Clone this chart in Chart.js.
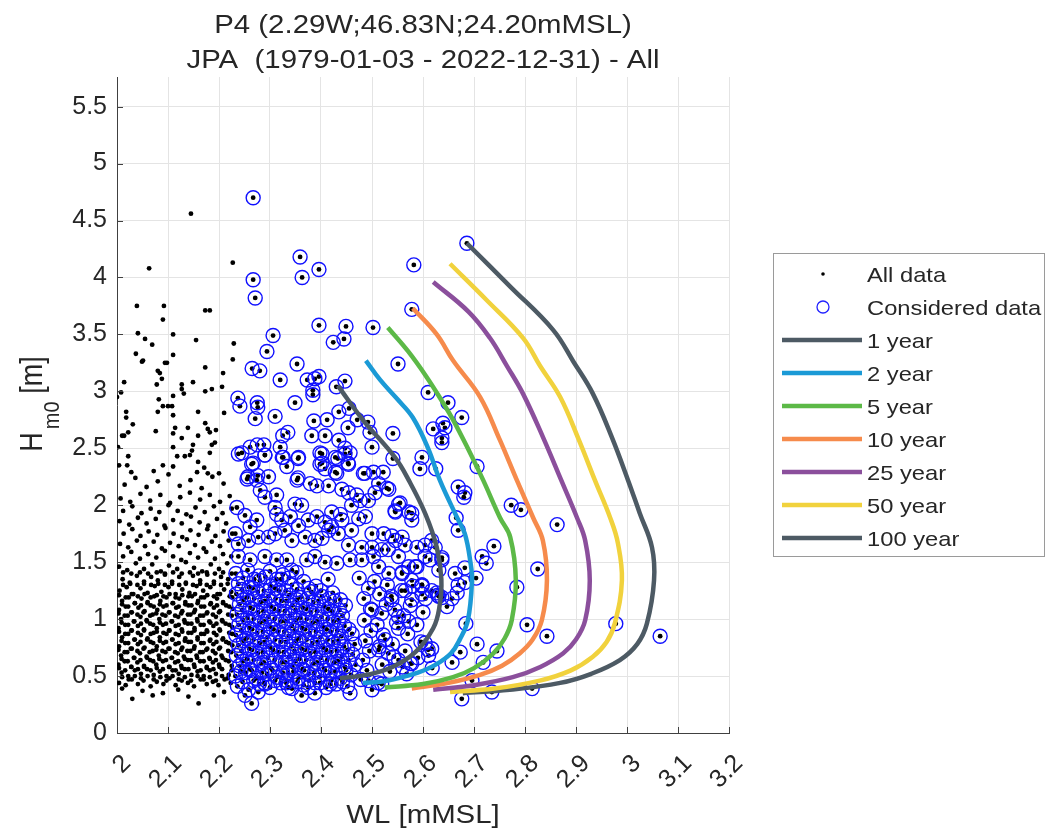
<!DOCTYPE html>
<html>
<head>
<meta charset="utf-8">
<script src="https://cdn.jsdelivr.net/npm/chart.js@4.4.1/dist/chart.umd.min.js"></script>
<style>
  html, body { margin: 0; padding: 0; background: #fff; }
  canvas { display: block; }
</style>
</head>
<body>
<canvas id="chart" width="1057" height="829"></canvas>
<script>
// WL [mMSL], Hm0 [m] pairs

// black dots that are not in the considered set
const otherData = [
  [2.03,0.30],[2.09,0.35],[2.16,0.26],[2.19,0.33],[2.05,0.37],[2.12,0.38],[2.21,0.36],[2.01,0.39],[2.14,0.32],[2.07,0.33],
  [2.004,0.44],[2.017,0.42],[2.029,0.47],[2.041,0.43],[2.052,0.46],[2.066,0.41],[2.078,0.45],[2.091,0.43],[2.103,0.48],[2.115,0.42],[2.127,0.46],[2.139,0.44],[2.151,0.41],[2.164,0.47],[2.176,0.43],[2.188,0.45],[2.199,0.42],[2.211,0.47],[2.223,0.44],
  [2.010,0.49],[2.023,0.47],[2.035,0.50],[2.047,0.48],[2.06,0.50],[2.072,0.47],[2.085,0.49],[2.097,0.46],[2.109,0.50],[2.121,0.47],[2.133,0.49],[2.145,0.46],[2.158,0.50],[2.17,0.47],[2.182,0.49],[2.194,0.46],[2.206,0.50],[2.217,0.48],
  [2.009,0.53],[2.022,0.50],[2.035,0.55],[2.047,0.52],[2.059,0.56],[2.072,0.51],[2.084,0.54],[2.097,0.50],[2.109,0.55],[2.121,0.52],[2.133,0.56],[2.146,0.51],[2.158,0.54],[2.17,0.50],[2.182,0.55],[2.194,0.52],[2.206,0.56],[2.219,0.51],
  [2.004,0.57],[2.016,0.55],[2.028,0.58],[2.041,0.56],[2.053,0.58],[2.066,0.55],[2.078,0.57],[2.09,0.56],[2.103,0.58],[2.115,0.55],[2.127,0.57],[2.14,0.56],[2.152,0.58],[2.164,0.55],[2.176,0.57],[2.189,0.56],[2.201,0.58],[2.225,0.55],
  [2.003,0.60],[2.015,0.63],[2.028,0.58],[2.04,0.62],[2.053,0.59],[2.065,0.64],[2.077,0.60],[2.09,0.63],[2.102,0.58],[2.114,0.62],[2.126,0.59],[2.139,0.64],[2.151,0.60],[2.163,0.63],[2.176,0.58],[2.188,0.62],[2.2,0.60],[2.213,0.64],[2.225,0.59],
  [2.009,0.65],[2.021,0.63],[2.034,0.66],[2.046,0.64],[2.059,0.66],[2.071,0.63],[2.083,0.65],[2.096,0.64],[2.108,0.66],[2.12,0.63],[2.133,0.65],[2.145,0.64],[2.157,0.66],[2.17,0.63],[2.182,0.65],[2.194,0.64],[2.207,0.66],[2.219,0.63],
  [2.008,0.68],[2.02,0.71],[2.033,0.66],[2.045,0.70],[2.058,0.67],[2.07,0.72],[2.082,0.68],[2.095,0.71],[2.107,0.66],[2.119,0.70],[2.131,0.67],[2.144,0.72],[2.156,0.68],[2.168,0.71],[2.181,0.66],[2.193,0.70],[2.205,0.68],[2.218,0.72],
  [2.003,0.73],[2.015,0.71],[2.027,0.74],[2.04,0.72],[2.052,0.74],[2.064,0.71],[2.077,0.73],[2.089,0.72],[2.101,0.74],[2.114,0.71],[2.126,0.73],[2.138,0.72],[2.151,0.74],[2.163,0.71],[2.175,0.73],[2.188,0.72],[2.2,0.74],[2.224,0.71],
  [2.004,0.76],[2.016,0.79],[2.029,0.74],[2.041,0.78],[2.054,0.75],[2.066,0.80],[2.078,0.76],[2.091,0.79],[2.103,0.74],[2.115,0.78],[2.128,0.75],[2.14,0.80],[2.152,0.76],[2.165,0.79],[2.177,0.74],[2.189,0.78],[2.202,0.75],[2.214,0.80],[2.226,0.77],
  [2.009,0.81],[2.022,0.79],[2.034,0.82],[2.046,0.80],[2.059,0.82],[2.071,0.79],[2.084,0.81],[2.096,0.80],[2.108,0.82],[2.121,0.79],[2.133,0.81],[2.145,0.80],[2.158,0.82],[2.17,0.79],[2.182,0.81],[2.195,0.80],[2.207,0.82],[2.219,0.79],
  [2.01,0.84],[2.022,0.87],[2.035,0.82],[2.047,0.86],[2.06,0.83],[2.072,0.88],[2.084,0.84],[2.097,0.87],[2.109,0.82],[2.121,0.86],[2.134,0.83],[2.146,0.88],[2.158,0.84],[2.171,0.87],[2.183,0.82],[2.195,0.86],[2.208,0.83],[2.22,0.88],
  [2.004,0.89],[2.016,0.87],[2.029,0.90],[2.041,0.88],[2.053,0.90],[2.066,0.87],[2.078,0.89],[2.091,0.88],[2.103,0.90],[2.115,0.87],[2.128,0.89],[2.14,0.88],[2.152,0.90],[2.165,0.87],[2.177,0.89],[2.19,0.88],[2.202,0.90],[2.226,0.87],
  [2.003,0.92],[2.016,0.95],[2.028,0.90],[2.041,0.94],[2.053,0.91],[2.065,0.96],[2.078,0.92],[2.09,0.95],[2.102,0.90],[2.115,0.94],[2.127,0.91],[2.139,0.96],[2.152,0.92],[2.164,0.95],[2.176,0.90],[2.189,0.94],[2.201,0.91],[2.213,0.96],[2.226,0.93],
  [2.009,0.97],[2.022,0.95],[2.034,0.98],[2.047,0.96],[2.059,0.98],[2.071,0.95],[2.084,0.97],[2.096,0.96],[2.108,0.98],[2.121,0.95],[2.133,0.97],[2.146,0.96],[2.158,0.98],[2.17,0.95],[2.183,0.97],[2.195,0.96],[2.207,0.98],[2.22,0.95],
  [2.008,1.00],[2.021,1.03],[2.033,0.98],[2.046,1.02],[2.058,0.99],[2.07,1.04],[2.083,1.00],[2.095,1.03],[2.107,0.98],[2.12,1.02],[2.132,0.99],[2.144,1.04],[2.157,1.00],[2.169,1.03],[2.181,0.98],[2.194,1.02],[2.206,0.99],[2.218,1.04],
  [2.003,1.05],[2.015,1.03],[2.028,1.06],[2.04,1.04],[2.052,1.06],[2.065,1.03],[2.077,1.05],[2.089,1.04],[2.102,1.06],[2.114,1.03],[2.126,1.05],[2.139,1.04],[2.151,1.06],[2.163,1.03],[2.176,1.05],[2.188,1.04],[2.2,1.06],[2.225,1.03],
  [2.004,1.08],[2.017,1.11],[2.029,1.06],[2.042,1.10],[2.054,1.07],[2.066,1.12],[2.079,1.08],[2.091,1.11],[2.103,1.06],[2.116,1.10],[2.128,1.07],[2.14,1.12],[2.153,1.08],[2.165,1.11],[2.177,1.06],[2.19,1.10],[2.202,1.07],[2.214,1.12],[2.227,1.09],
  [2.01,1.13],[2.022,1.11],[2.035,1.14],[2.047,1.12],[2.06,1.14],[2.072,1.11],[2.084,1.13],[2.097,1.12],[2.109,1.14],[2.121,1.11],[2.134,1.13],[2.146,1.12],[2.158,1.14],[2.171,1.11],[2.183,1.13],[2.196,1.12],[2.208,1.14],[2.22,1.11],
  [2.01,1.16],[2.023,1.19],[2.035,1.14],[2.048,1.18],[2.06,1.15],[2.073,1.20],[2.085,1.16],[2.097,1.19],[2.11,1.14],[2.122,1.18],[2.134,1.15],[2.147,1.20],[2.159,1.16],[2.171,1.19],[2.184,1.14],[2.196,1.18],[2.208,1.15],[2.221,1.20],
  [2.004,1.21],[2.017,1.19],[2.029,1.22],[2.041,1.20],[2.054,1.22],[2.066,1.19],[2.078,1.21],[2.091,1.20],[2.103,1.22],[2.115,1.19],[2.128,1.21],[2.14,1.20],[2.153,1.22],[2.165,1.19],[2.177,1.21],[2.19,1.20],[2.202,1.22],[2.226,1.19],
  [2.005,1.25],[2.019,1.28],[2.032,1.22],[2.046,1.27],[2.06,1.23],[2.074,1.29],[2.087,1.24],[2.101,1.28],[2.115,1.22],[2.128,1.26],[2.142,1.23],[2.156,1.29],[2.169,1.25],[2.183,1.28],[2.197,1.22],[2.21,1.26],[2.224,1.24],
  [2.012,1.30],[2.026,1.31],[2.04,1.30],[2.053,1.31],[2.067,1.30],[2.081,1.31],[2.094,1.30],[2.108,1.31],[2.122,1.30],[2.135,1.31],[2.149,1.30],[2.163,1.31],[2.176,1.30],[2.19,1.31],[2.204,1.30],[2.217,1.31],
  [2.011,1.35],[2.025,1.32],[2.039,1.38],[2.053,1.33],[2.067,1.37],[2.08,1.34],[2.094,1.39],[2.108,1.33],[2.122,1.37],[2.135,1.32],[2.149,1.38],[2.163,1.34],[2.177,1.39],[2.19,1.33],[2.204,1.37],[2.218,1.35],
  [2.012,1.41],[2.028,1.40],[2.045,1.41],[2.061,1.40],[2.078,1.41],[2.094,1.40],[2.11,1.41],[2.127,1.40],[2.143,1.41],[2.159,1.40],[2.176,1.41],[2.192,1.40],[2.208,1.41],[2.225,1.40],
  [2.004,1.46],[2.02,1.43],[2.037,1.49],[2.053,1.44],[2.069,1.48],[2.086,1.42],[2.102,1.47],[2.118,1.44],[2.135,1.50],[2.151,1.45],[2.167,1.42],[2.184,1.48],[2.2,1.44],[2.216,1.49],
  [2.012,1.55],[2.028,1.59],[2.045,1.53],[2.061,1.57],[2.077,1.54],[2.094,1.60],[2.11,1.55],[2.126,1.52],[2.143,1.58],[2.159,1.54],[2.175,1.59],[2.192,1.53],[2.208,1.57],[2.224,1.55],
  [2.006,1.66],[2.022,1.63],[2.039,1.69],[2.055,1.64],[2.072,1.68],[2.088,1.62],[2.104,1.67],[2.121,1.64],[2.137,1.70],[2.153,1.65],[2.17,1.62],[2.186,1.68],[2.202,1.64],[2.219,1.69],
  [2.013,1.75],[2.03,1.79],[2.046,1.73],[2.062,1.77],[2.079,1.74],[2.095,1.80],[2.111,1.75],[2.128,1.72],[2.144,1.78],[2.16,1.74],[2.177,1.79],[2.193,1.73],[2.209,1.77],[2.226,1.75],
  [2.005,1.86],[2.024,1.83],[2.041,1.89],[2.058,1.84],[2.076,1.88],[2.093,1.82],[2.11,1.87],[2.127,1.84],[2.145,1.90],[2.162,1.85],[2.179,1.82],[2.196,1.88],[2.214,1.84],
  [2.012,1.95],[2.03,1.99],[2.048,1.93],[2.066,1.97],[2.083,1.94],[2.101,2.00],[2.119,1.95],[2.136,1.92],[2.154,1.98],[2.172,1.94],[2.19,1.99],[2.207,1.93],[2.225,1.97],
  [2.007,2.06],[2.026,2.03],[2.046,2.10],[2.065,2.04],[2.085,2.09],[2.104,2.02],[2.124,2.07],[2.143,2.11],[2.163,2.05],[2.182,2.09],[2.202,2.03],[2.221,2.08],
  [2.015,2.18],[2.036,2.24],[2.058,2.16],[2.08,2.21],[2.101,2.27],[2.123,2.17],[2.144,2.22],[2.166,2.15],[2.187,2.25],[2.209,2.19],[2.028,2.29],[2.072,2.30],[2.157,2.29],[2.2,2.28],
  [2.145,4.56],[2.063,4.08],[2.227,4.13],[2.039,3.75],[2.092,3.75],[2.09,3.63],[2.173,3.71],[2.182,3.71],
  [2.041,3.51],[2.055,3.46],[2.069,3.41],[2.11,3.50],[2.155,3.45],[2.229,3.42],[2.037,3.33],[2.051,3.27],[2.049,3.26],
  [2.11,3.32],[2.098,3.25],[2.094,3.25],[2.227,3.28],[2.173,3.21],[2.08,3.18],[2.084,3.16],[2.088,3.11],[2.078,3.06],
  [2.014,3.08],[2.208,3.16],[2.127,3.06],[2.127,3.02],[2.131,2.98],[2.149,3.08],[2.173,3.00],[2.186,3.02],[2.206,3.04],
  [2.008,2.99],[2.0,2.95],[2.082,2.93],[2.11,2.96],[2.09,2.87],[2.1,2.87],[2.108,2.87],[2.08,2.82],[2.11,2.79],
  [2.159,2.82],[2.21,2.81],[2.018,2.82],[2.018,2.77],[2.031,2.71],[2.076,2.65],[2.01,2.61],[2.014,2.61],[2.022,2.64],
  [2.114,2.68],[2.11,2.63],[2.127,2.59],[2.139,2.68],[2.159,2.61],[2.173,2.72],[2.178,2.67],[2.182,2.64],[2.194,2.66],
  [2.002,2.51],[2.11,2.51],[2.149,2.53],[2.186,2.53],[2.192,2.55],[2.022,2.43],[2.02,2.35],[2.004,2.35],
  [2.09,2.35],[2.11,2.34],[2.118,2.43],[2.133,2.43],[2.143,2.44],[2.147,2.48],[2.159,2.38],[2.171,2.33],[2.182,2.46],[2.178,2.28]
];

// blue circled points
const consideredData = [
  [2.267,4.70],[2.359,4.18],[2.363,4.00],[2.396,4.07],[2.267,3.98],[2.271,3.82],[2.686,4.30],[2.582,4.11],[2.578,3.72],
  [2.396,3.58],[2.449,3.57],[2.502,3.56],[2.445,3.46],[2.424,3.43],[2.306,3.49],[2.294,3.35],[2.551,3.24],[2.353,3.24],
  [2.265,3.20],[2.28,3.18],[2.32,3.10],[2.373,3.10],[2.388,3.11],[2.396,3.13],[2.384,3.01],[2.384,2.97],[2.43,3.04],[2.447,3.09],
  [2.349,2.90],[2.237,2.94],[2.241,2.87],[2.275,2.90],[2.276,2.86],[2.271,2.76],[2.31,2.78],
  [2.386,2.74],[2.412,2.75],[2.435,2.82],[2.455,2.85],[2.471,2.75],[2.492,2.73],[2.453,2.68],
  [2.325,2.61],[2.335,2.64],[2.382,2.61],[2.408,2.61],[2.435,2.57],[2.496,2.64],[2.541,2.63],[2.5,2.51],
  [2.245,2.46],[2.261,2.51],[2.275,2.53],[2.288,2.53],[2.267,2.37],[2.29,2.44],[2.32,2.51],[2.324,2.42],[2.333,2.34],[2.355,2.41],
  [2.398,2.46],[2.402,2.37],[2.433,2.41],[2.447,2.50],[2.457,2.46],[2.453,2.37],[2.486,2.28],[2.522,2.29],[2.541,2.41],[2.431,2.28],[2.355,2.24],[2.257,2.25],[2.276,2.26],
  [2.61,2.99],[2.649,2.90],[2.676,2.77],[2.62,2.67],[2.639,2.72],[2.643,2.68],[2.637,2.59],[2.637,2.55],
  [2.598,2.42],[2.594,2.32],[2.625,2.32],[2.706,2.34],[2.529,2.15],[2.669,2.16],[2.682,2.11],[2.68,2.07],
  [2.555,2.02],[2.545,1.95],[2.578,1.93],[2.773,2.00],[2.792,1.96],[2.863,1.83],[2.665,1.89],
  [2.238,2.45],[2.264,2.36],[2.29,2.44],[2.326,2.42],[2.356,2.42],[2.402,2.45],[2.428,2.42],[2.447,2.45],[2.398,2.36],[2.408,2.32],[2.428,2.29],[2.454,2.36],[2.483,2.28],[2.503,2.29],
  [2.255,2.23],[2.274,2.22],[2.297,2.25],[2.281,2.13],[2.29,2.07],[2.313,2.09],[2.353,2.22],[2.379,2.19],[2.392,2.17],[2.415,2.17],[2.441,2.14],[2.454,2.11],[2.47,2.09],[2.477,2.04],[2.493,2.04],[2.513,2.19],[2.533,2.14],[2.506,2.11],[2.552,2.01],[2.546,1.94],[2.572,1.94],[2.578,1.87],
  [2.235,1.98],[2.251,1.91],[2.274,1.87],[2.261,1.81],[2.31,1.98],[2.313,1.92],[2.323,1.87],[2.349,2.01],[2.362,2.00],[2.34,1.90],[2.356,1.82],[2.375,1.87],[2.392,1.90],[2.408,1.85],[2.421,1.94],[2.441,1.87],[2.438,1.92],[2.46,2.00],[2.474,1.88],[2.46,1.78],[2.487,1.90],
  [2.5,1.75],[2.523,1.75],[2.539,1.73],[2.546,1.69],[2.559,1.72],[2.565,1.65],[2.588,1.63],[2.617,1.69],[2.624,1.63],[2.604,1.65],
  [2.232,1.75],[2.238,1.66],[2.258,1.69],[2.277,1.72],[2.297,1.72],[2.31,1.75],[2.329,1.78],[2.343,1.69],[2.369,1.72],[2.388,1.69],[2.402,1.71],[2.415,1.78],[2.421,1.81],[2.434,1.75],[2.454,1.65],[2.48,1.63],[2.5,1.63],[2.519,1.61],[2.532,1.61],[2.552,1.55],[2.572,1.46],[2.585,1.46],[2.604,1.55],[2.637,1.52],[2.631,1.43],
  [2.238,1.55],[2.261,1.52],[2.29,1.55],[2.313,1.52],[2.333,1.52],[2.343,1.43],[2.372,1.52],[2.388,1.55],[2.408,1.50],[2.431,1.49],[2.457,1.52],[2.48,1.52],[2.503,1.55],[2.513,1.46],[2.533,1.40],[2.559,1.40],[2.578,1.34],[2.598,1.30],[2.617,1.25],[2.565,1.25],
  [2.236,0.41],[2.258,0.38],[2.279,0.43],[2.3,0.40],[2.321,0.44],[2.343,0.39],[2.366,0.42],[2.388,0.44],[2.41,0.40],[2.43,0.43],[2.452,0.41],
  [2.246,0.45],[2.268,0.46],[2.289,0.44],[2.31,0.46],[2.332,0.44],[2.354,0.45],[2.376,0.46],[2.398,0.44],[2.42,0.46],[2.442,0.45],
  [2.232,0.50],[2.252,0.53],[2.273,0.48],[2.294,0.52],[2.314,0.49],[2.335,0.53],[2.356,0.48],[2.376,0.52],[2.397,0.49],[2.418,0.53],[2.438,0.48],[2.459,0.51],
  [2.243,0.54],[2.264,0.55],[2.284,0.53],[2.305,0.55],[2.325,0.53],[2.346,0.54],[2.367,0.55],[2.387,0.53],[2.408,0.55],[2.428,0.54],[2.449,0.55],
  [2.24,0.59],[2.261,0.56],[2.282,0.61],[2.302,0.57],[2.323,0.62],[2.344,0.58],[2.364,0.56],[2.385,0.61],[2.406,0.57],[2.426,0.62],[2.447,0.58],[2.468,0.60],
  [2.247,0.63],[2.268,0.64],[2.288,0.62],[2.309,0.64],[2.33,0.62],[2.35,0.63],[2.371,0.64],[2.392,0.62],[2.412,0.64],[2.433,0.63],[2.454,0.64],
  [2.234,0.68],[2.255,0.65],[2.276,0.70],[2.296,0.66],[2.317,0.71],[2.338,0.67],[2.358,0.65],[2.379,0.70],[2.4,0.66],[2.42,0.71],[2.441,0.67],[2.462,0.69],
  [2.244,0.72],[2.265,0.73],[2.286,0.71],[2.306,0.73],[2.327,0.71],[2.348,0.72],[2.369,0.73],[2.389,0.71],[2.41,0.73],[2.431,0.72],[2.452,0.73],
  [2.238,0.77],[2.259,0.74],[2.28,0.79],[2.3,0.75],[2.321,0.80],[2.342,0.76],[2.362,0.74],[2.383,0.79],[2.404,0.75],[2.424,0.80],[2.445,0.76],[2.466,0.78],
  [2.248,0.81],[2.268,0.82],[2.289,0.80],[2.31,0.82],[2.331,0.80],[2.351,0.81],[2.372,0.82],[2.393,0.80],[2.413,0.82],[2.434,0.81],
  [2.233,0.86],[2.254,0.83],[2.275,0.88],[2.295,0.84],[2.316,0.89],[2.337,0.85],[2.357,0.83],[2.378,0.88],[2.399,0.84],[2.419,0.89],[2.44,0.85],[2.461,0.87],
  [2.244,0.90],[2.265,0.91],[2.286,0.89],[2.307,0.91],[2.328,0.89],[2.348,0.90],[2.369,0.91],[2.39,0.89],[2.411,0.91],[2.432,0.90],[2.455,0.91],
  [2.239,0.95],[2.26,0.92],[2.281,0.97],[2.301,0.93],[2.322,0.98],[2.343,0.94],[2.363,0.92],[2.384,0.97],[2.405,0.93],[2.425,0.98],[2.446,0.94],
  [2.247,0.99],[2.268,1.00],[2.289,0.98],[2.309,1.00],[2.33,0.98],[2.351,0.99],[2.372,1.00],[2.392,0.98],[2.413,1.00],[2.434,0.99],
  [2.235,1.04],[2.256,1.01],[2.277,1.06],[2.297,1.02],[2.318,1.07],[2.339,1.03],[2.359,1.01],[2.38,1.06],[2.401,1.02],[2.421,1.07],[2.442,1.03],
  [2.245,1.08],[2.266,1.09],[2.287,1.07],[2.308,1.09],[2.329,1.07],[2.35,1.08],[2.371,1.09],[2.392,1.07],[2.414,1.09],[2.436,1.08],
  [2.24,1.13],[2.261,1.10],[2.282,1.15],[2.302,1.11],[2.323,1.16],[2.344,1.12],[2.364,1.10],[2.385,1.15],[2.406,1.11],[2.427,1.16],[2.448,1.12],
  [2.248,1.17],[2.269,1.18],[2.29,1.16],[2.311,1.18],[2.332,1.16],[2.353,1.17],[2.374,1.18],[2.395,1.16],[2.416,1.18],[2.438,1.17],
  [2.234,1.22],[2.255,1.19],[2.276,1.24],[2.297,1.20],[2.317,1.25],[2.338,1.21],[2.36,1.19],[2.381,1.24],[2.402,1.20],[2.423,1.23],
  [2.245,1.26],[2.266,1.27],[2.288,1.25],[2.31,1.27],[2.331,1.25],[2.353,1.26],[2.376,1.27],[2.4,1.25],
  [2.238,1.31],[2.259,1.28],[2.28,1.34],[2.301,1.29],[2.322,1.35],[2.343,1.30],[2.366,1.33],[2.39,1.29],[2.414,1.35],
  [2.247,1.36],[2.269,1.35],[2.291,1.37],[2.313,1.35],[2.337,1.36],
  [2.233,1.40],[2.256,1.43],[2.278,1.38],[2.3,1.42],[2.325,1.39],[2.352,1.41],
  [2.478,0.47],[2.49,0.55],[2.482,0.64],[2.495,0.72],[2.487,0.81],[2.498,0.90],[2.485,0.99],[2.497,1.09],[2.484,1.18],[2.493,1.27],[2.475,1.36],
  [2.512,0.44],[2.52,0.60],[2.515,0.76],[2.522,0.86],[2.51,0.95],[2.528,1.13],[2.515,1.22],[2.505,1.33],
  [2.535,0.54],[2.543,0.67],[2.54,0.78],[2.548,0.97],[2.545,1.08],[2.538,1.20],[2.53,1.30],
  [2.56,0.58],[2.565,0.72],[2.57,0.87],[2.562,1.03],[2.575,1.12],[2.558,1.25],
  [2.59,0.66],[2.596,0.80],[2.588,0.95],[2.6,1.06],[2.605,1.18],
  [2.5,1.08],[2.519,1.05],[2.539,1.17],[2.552,1.02],[2.552,0.92],[2.572,0.98],[2.578,1.17],[2.598,1.22],[2.598,1.30],[2.604,0.79],[2.617,0.74],[2.611,0.68],
  [2.575,0.61],[2.568,0.52],[2.552,0.64],[2.532,0.70],[2.526,0.82],[2.513,0.73],[2.631,1.20],
  [2.251,0.33],[2.264,0.26],[2.277,0.36],[2.29,0.43],[2.333,0.46],[2.336,0.40],[2.362,0.33],[2.388,0.35],[2.375,0.40],[2.418,0.43],[2.457,0.35],[2.493,0.46],[2.5,0.38],[2.519,0.43],
  [2.784,1.28],[2.804,0.95],[2.843,0.85],[2.978,0.96],[3.065,0.85],[2.684,0.96],[2.706,0.78],[2.745,0.72],[2.718,0.62],[2.673,0.71],[2.657,0.62],[2.618,0.57],
  [2.696,0.46],[2.676,0.30],[2.735,0.36],[2.814,0.39],[2.61,0.73],[2.578,0.61],[2.588,1.46],[2.559,1.41],[2.614,1.52],[2.637,1.54],[2.598,1.29],[2.58,1.29],[2.629,1.21],
  [2.739,1.64],[2.716,1.55],[2.724,1.49],[2.825,1.44],[2.669,1.78],[2.704,1.36],[2.682,1.45],[2.663,1.40],[2.669,1.30],[2.682,1.32],[2.667,1.23],[2.657,1.18],[2.647,1.11],[2.637,1.19],[2.627,1.23]
];

// return level contours, from the upper end to the lower end
const curve1 = [[2.433,3.05],[2.482,2.75],[2.545,2.42],[2.572,2.22],[2.605,1.92],[2.627,1.63],[2.636,1.35],[2.632,1.10],[2.62,0.92],[2.585,0.71],[2.54,0.58],[2.49,0.51],[2.437,0.48]];
const curve2 = [[2.488,3.27],[2.516,3.10],[2.55,2.93],[2.58,2.77],[2.61,2.50],[2.633,2.22],[2.667,1.89],[2.682,1.75],[2.693,1.50],[2.696,1.34],[2.688,0.99],[2.672,0.82],[2.655,0.70],[2.625,0.60],[2.59,0.53],[2.55,0.48],[2.516,0.45],[2.482,0.44]];
const curve5 = [[2.531,3.56],[2.571,3.35],[2.608,3.12],[2.635,2.93],[2.659,2.75],[2.69,2.48],[2.718,2.22],[2.751,1.89],[2.771,1.72],[2.782,1.34],[2.774,0.99],[2.76,0.83],[2.738,0.70],[2.70,0.57],[2.659,0.49],[2.60,0.43],[2.525,0.40]];
const curve10 = [[2.58,3.73],[2.627,3.50],[2.659,3.27],[2.712,2.95],[2.75,2.58],[2.784,2.22],[2.816,1.89],[2.835,1.69],[2.843,1.34],[2.833,0.99],[2.815,0.82],[2.79,0.70],[2.755,0.59],[2.712,0.51],[2.65,0.44],[2.578,0.39]];
const curve25 = [[2.62,3.96],[2.689,3.70],[2.731,3.47],[2.765,3.22],[2.796,2.98],[2.835,2.60],[2.871,2.22],[2.902,1.89],[2.918,1.69],[2.927,1.34],[2.918,0.99],[2.9,0.82],[2.875,0.70],[2.83,0.58],[2.776,0.49],[2.70,0.42],[2.62,0.38]];
const curve50 = [[2.653,4.12],[2.725,3.80],[2.796,3.47],[2.83,3.22],[2.869,2.95],[2.905,2.58],[2.937,2.22],[2.967,1.89],[2.982,1.67],[2.99,1.34],[2.976,0.96],[2.96,0.80],[2.933,0.67],[2.89,0.55],[2.829,0.46],[2.74,0.39],[2.653,0.36]];
const curve100 = [[2.686,4.30],[2.771,3.92],[2.855,3.54],[2.895,3.26],[2.933,2.98],[2.97,2.60],[3.002,2.22],[3.025,1.93],[3.049,1.63],[3.053,1.34],[3.039,0.96],[3.02,0.78],[2.986,0.64],[2.93,0.52],[2.869,0.44],[2.77,0.38],[2.678,0.35]];

const curveLabels = ['1 year', '2 year', '5 year', '10 year', '25 year', '50 year', '100 year'];
const curveColors = ['#4d5a64', '#1b9ad6', '#5cb947', '#f68b4c', '#8b4f9c', '#f1d23d', '#4d5a64'];
const curves = [curve1, curve2, curve5, curve10, curve25, curve50, curve100];

const allData = otherData.concat(consideredData);

const FONT = '"Liberation Sans", Arial, Helvetica, sans-serif';
const TEXT = '#262626';
const STRETCH = 1.13;

function pts(arr) {
    return arr.map(p => ({ x: p[0], y: p[1] }));
}

function wideText(ctx, text, x, y, align) {
    ctx.save();
    ctx.translate(x, y);
    ctx.scale(STRETCH, 1);
    ctx.textAlign = align;
    ctx.fillText(text, 0, 0);
    ctx.restore();
}

const decor = {
    id: 'decor',
    afterDraw(chart) {
        const ctx = chart.ctx;
        const a = chart.chartArea;
        const xs = chart.scales.x;
        const ys = chart.scales.y;
        ctx.save();

        // small inward ticks like matlab
        ctx.strokeStyle = '#404040';
        ctx.lineWidth = 1;
        xs.ticks.forEach(t => {
            const px = Math.round(xs.getPixelForValue(t.value)) + 0.5;
            ctx.beginPath();
            ctx.moveTo(px, a.bottom);
            ctx.lineTo(px, a.bottom - 6);
            ctx.stroke();
        });
        ys.ticks.forEach(t => {
            const py = Math.round(ys.getPixelForValue(t.value)) + 0.5;
            ctx.beginPath();
            ctx.moveTo(a.left, py);
            ctx.lineTo(a.left + 6, py);
            ctx.stroke();
        });

        ctx.fillStyle = TEXT;
        ctx.textBaseline = 'alphabetic';
        const cx = (a.left + a.right) / 2;

        // title
        ctx.font = '26px ' + FONT;
        wideText(ctx, 'P4 (2.29W;46.83N;24.20mMSL)', cx, 33, 'center');
        wideText(ctx, 'JPA  (1979-01-03 - 2022-12-31) - All', cx, 68, 'center');

        // x label
        ctx.font = '26px ' + FONT;
        wideText(ctx, 'WL [mMSL]', cx, 823, 'center');

        // y label with subscript
        ctx.save();
        ctx.translate(42, 404);
        ctx.rotate(-Math.PI / 2);
        ctx.scale(1, STRETCH);
        ctx.textAlign = 'left';
        ctx.font = '27px ' + FONT;
        const wH = ctx.measureText('H').width;
        const wU = ctx.measureText(' [m]').width;
        ctx.font = '20px ' + FONT;
        const wS = ctx.measureText('m0').width;
        const x0 = -(wH + wS + wU + 3) / 2;
        ctx.font = '27px ' + FONT;
        ctx.fillText('H', x0, 0);
        ctx.font = '20px ' + FONT;
        ctx.fillText('m0', x0 + wH + 3, 15);
        ctx.font = '27px ' + FONT;
        ctx.fillText(' [m]', x0 + wH + 3 + wS, 0);
        ctx.restore();

        // legend
        const lx = 773, ly = 253, lw = 271, lh = 303;
        ctx.fillStyle = '#fff';
        ctx.fillRect(lx, ly, lw, lh);
        ctx.strokeStyle = '#9a9a9a';
        ctx.lineWidth = 1;
        ctx.strokeRect(lx + 0.5, ly + 0.5, lw, lh);

        const rows = [274, 307, 340, 373, 406, 439, 472, 505, 538];
        const textX = 867;
        ctx.font = '21px ' + FONT;

        ctx.fillStyle = '#000';
        ctx.beginPath();
        ctx.arc(823, rows[0], 1.8, 0, Math.PI * 2);
        ctx.fill();
        ctx.fillStyle = TEXT;
        wideText(ctx, 'All data', textX, rows[0] + 7.5, 'left');

        ctx.strokeStyle = '#2222ff';
        ctx.lineWidth = 1.3;
        ctx.beginPath();
        ctx.arc(823, rows[1], 6, 0, Math.PI * 2);
        ctx.stroke();
        wideText(ctx, 'Considered data', textX, rows[1] + 7.5, 'left');

        curveLabels.forEach((lab, i) => {
            const y = rows[i + 2];
            ctx.strokeStyle = curveColors[i];
            ctx.lineWidth = 4.5;
            ctx.beginPath();
            ctx.moveTo(782, y);
            ctx.lineTo(862, y);
            ctx.stroke();
            wideText(ctx, lab, textX, y + 7.5, 'left');
        });

        ctx.restore();
    }
};

const datasets = [
    {
        label: 'All data',
        data: pts(allData),
        pointRadius: 2.4,
        pointBackgroundColor: '#000',
        pointBorderWidth: 0,
        order: 3
    },
    {
        label: 'Considered data',
        data: pts(consideredData),
        pointRadius: 7,
        pointBackgroundColor: 'rgba(0,0,0,0)',
        pointBorderColor: '#1010ff',
        pointBorderWidth: 1.4,
        order: 2
    }
];
curves.forEach((c, i) => {
    datasets.push({
        label: curveLabels[i],
        data: pts(c),
        showLine: true,
        borderColor: curveColors[i],
        borderWidth: 4.5,
        pointRadius: 0,
        tension: 0.4,
        fill: false,
        order: 1
    });
});

Chart.defaults.font.family = FONT;

new Chart(document.getElementById('chart'), {
    type: 'scatter',
    data: { datasets: datasets },
    options: {
        responsive: false,
        animation: false,
        devicePixelRatio: 1,
        layout: { padding: { left: 0, top: 77, right: 328, bottom: 0 } },
        plugins: {
            legend: { display: false },
            tooltip: { enabled: false },
            title: { display: false }
        },
        scales: {
            x: {
                type: 'linear',
                min: 2,
                max: 3.2,
                afterFit: s => { s.height = 96; },
                ticks: {
                    stepSize: 0.1,
                    autoSkip: false,
                    minRotation: 45,
                    maxRotation: 45,
                    padding: 16,
                    labelOffset: 10,
                    color: TEXT,
                    font: { size: 25 },
                    callback: v => String(+v.toFixed(1))
                },
                grid: { color: '#e4e4e4', drawTicks: false },
                border: { color: '#404040', width: 1 }
            },
            y: {
                min: 0,
                max: 5.76,
                afterFit: s => { s.width = 117; },
                ticks: {
                    stepSize: 0.5,
                    includeBounds: false,
                    padding: 10,
                    color: TEXT,
                    font: { size: 25 },
                    callback: v => String(+v.toFixed(1))
                },
                grid: { color: '#e4e4e4', drawTicks: false },
                border: { color: '#404040', width: 1 }
            }
        }
    },
    plugins: [decor]
});
</script>
</body>
</html>
